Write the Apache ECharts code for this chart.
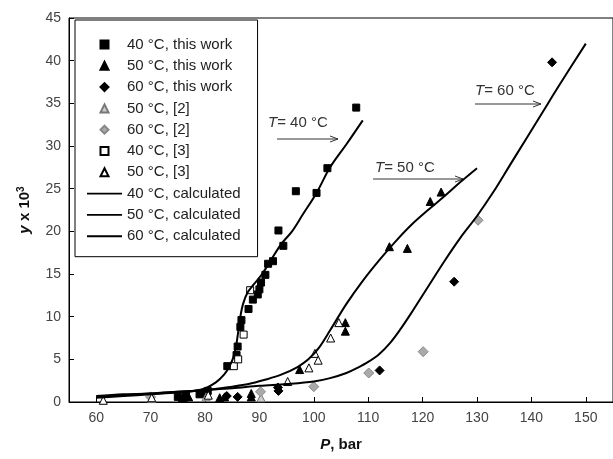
<!DOCTYPE html>
<html>
<head>
<meta charset="utf-8">
<script src="https://cdn.jsdelivr.net/npm/echarts@6/dist/echarts.min.js"></script>
<style>
html, body { margin: 0; padding: 0; background: #fff; }
#main { width: 613px; height: 459px; }
</style>
</head>
<body>
<div id="main"></div>
<script>
// measured points, P (bar) / y x 10^3
var sq40 = [[75.0,0.6],[75.8,0.4],[76.5,0.7],[79.0,0.9],[80.5,1.3],[84.1,4.2],[85.8,5.5],[86.0,6.5],[86.5,8.8],[86.7,9.6],
	[88.0,10.9],[88.8,12.0],[89.7,12.6],[90.0,13.2],[90.3,14.0],[91.1,14.9],[91.6,16.2],[92.5,16.5],[93.5,20.1],[94.4,18.3],
	[96.7,24.7],[100.5,24.5],[102.5,27.4],[107.8,34.5]];
var tri50 = [[76.0,0.5],[77.0,0.6],[82.7,0.5],[83.6,0.6],[88.5,0.6],[88.5,1.0],[97.4,3.8],[105.8,9.3],[105.8,8.3],
	[113.9,18.2],[117.2,18.0],[121.4,23.5],[123.4,24.6]];
var dia60 = [[80.0,0.9],[84.0,0.7],[86.0,0.6],[93.5,1.3],[93.4,1.7],[112.1,3.7],[125.8,14.1],[143.8,39.8]];
var tri50ref2 = [[70.2,0.4],[80.2,0.6],[90.3,0.5]];
var dia60ref2 = [[70.0,0.6],[90.2,1.2],[100.0,1.8],[110.1,3.4],[120.1,5.9],[130.2,21.3]];
var sq40ref3 = [[85.3,4.2],[86.1,5.0],[87.1,7.9],[88.3,13.1]];
var tri50ref3 = [[61.3,0.2],[70.2,0.5],[80.6,0.8],[95.2,2.4],[99.1,4.0],[100.2,5.7],[100.8,4.9],[103.1,7.5],[104.6,9.3]];

// model curves
var calc40 = [[60,0.5],[65,0.7],[70,0.9],[75,1.1],[78,1.3],[80,1.6],[82,2.3],[83.5,3.2],[84.5,4.2],[85.2,5.2],[85.7,6.5],
	[86.1,8.2],[86.5,10.0],[87.0,11.5],[87.8,12.8],[89.0,13.8],[90.5,15.0],[92.0,16.5],[94.0,18.5],[96.0,20.0],[98.0,22.0],
	[100.5,24.5],[103.0,27.5],[106.0,30.2],[109.0,33.0]];
var calc50 = [[60,0.6],[65,0.8],[70,1.0],[75,1.2],[80,1.4],[85,1.8],[88,2.1],[91,2.6],[94,3.2],[97,4.1],[99,5.0],[101,6.4],
	[103,8.4],[106,11.5],[109,14.2],[112,16.6],[115,18.8],[118,20.8],[121,22.5],[124,24.1],[127,25.8],[130,27.4]];
var calc60 = [[60,0.7],[65,0.9],[70,1.0],[75,1.2],[80,1.4],[85,1.6],[90,1.9],[95,2.1],[100,2.4],[103,2.8],[106,3.4],[108,4.0],
	[110,4.7],[112,5.6],[114,6.9],[116,8.6],[118,10.5],[121,13.5],[124,16.5],[127,19.3],[130,21.8],[133,24.6],[136,27.7],
	[139,30.8],[142,33.9],[145,37.0],[150,42.0]];

var names = ['40 °C, this work','50 °C, this work','60 °C, this work','50 °C, [2]','60 °C, [2]','40 °C, [3]','50 °C, [3]',
	'40 °C, calculated','50 °C, calculated','60 °C, calculated'];

var SQ = 'path://M0,0L10,0L10,10L0,10Z';
var TRI = 'path://M5,0L10,10L0,10Z';
var DIA = 'path://M5,0L10,5L5,10L0,5Z';
var LINE = 'path://M0,0L36,0L36,2L0,2Z';
var icons = [SQ, TRI, DIA, TRI, DIA, SQ, TRI, LINE, LINE, LINE];

var FONT = 'Liberation Sans, Arial, sans-serif';

function pts(name, data, symbol, size, fill, border) {
	return {
		name: name, type: 'scatter', data: data, symbol: symbol, symbolSize: size,
		itemStyle: { color: fill, borderColor: border, borderWidth: 1, opacity: 1 }
	};
}
function curve(name, data) {
	return {
		name: name, type: 'line', data: data, symbol: 'none', smooth: 0.35,
		lineStyle: { color: '#000', width: 2 }, itemStyle: { color: '#000' }
	};
}

var legendData = [];
for (var i = 0; i < names.length; i++) {
	legendData.push({ name: names[i], icon: icons[i] });
}

var chart = echarts.init(document.getElementById('main'));

chart.setOption({
	animation: false,
	backgroundColor: '#fff',
	grid: { left: 69, top: 18, right: -3, bottom: 57, show: true, borderColor: '#000', borderWidth: 1 },
	legend: {
		orient: 'vertical', left: 75, top: 20,
		padding: [17, 17, 13, 12],
		borderColor: '#000', borderWidth: 1, backgroundColor: '#fff',
		itemWidth: 35, itemHeight: 8, itemGap: 6.3,
		symbolKeepAspect: true,
		data: legendData,
		textStyle: { fontFamily: FONT, fontSize: 15, color: '#222', lineHeight: 15 }
	},
	xAxis: {
		type: 'value', min: 55, max: 155, splitNumber: 10,
		name: '{i|P}, bar', nameLocation: 'middle', nameGap: 35,
		nameTextStyle: { fontFamily: FONT, fontSize: 15, fontWeight: 'bold', color: '#111',
			rich: { i: { fontFamily: FONT, fontSize: 15, fontWeight: 'bold', fontStyle: 'italic', color: '#111' } } },
		axisLine: { lineStyle: { color: '#000', width: 1 } },
		axisTick: { inside: true, length: 5, lineStyle: { color: '#000' } },
		axisLabel: { fontFamily: FONT, fontSize: 14, color: '#444', margin: 9, showMinLabel: false, showMaxLabel: false },
		splitLine: { show: false }
	},
	yAxis: {
		type: 'value', min: 0, max: 45, interval: 5,
		name: '{i|y} x 10{s|3}', nameLocation: 'middle', nameGap: 35, nameRotate: 90,
		nameTextStyle: { fontFamily: FONT, fontSize: 15, fontWeight: 'bold', color: '#111',
			rich: {
				i: { fontFamily: FONT, fontSize: 15, fontWeight: 'bold', fontStyle: 'italic', color: '#111' },
				s: { fontFamily: FONT, fontSize: 10, fontWeight: 'bold', color: '#111', padding: [0, 0, 8, 0] }
			} },
		axisLine: { show: true, lineStyle: { color: '#000', width: 1 } },
		axisTick: { show: true, inside: true, length: 5, lineStyle: { color: '#000' } },
		axisLabel: { fontFamily: FONT, fontSize: 14, color: '#444', margin: 8 },
		splitLine: { show: false }
	},
	series: [
		pts(names[0], sq40, 'rect', 7, '#000', '#000'),
		pts(names[1], tri50, 'triangle', 8, '#000', '#000'),
		pts(names[2], dia60, 'diamond', 9, '#000', '#000'),
		pts(names[3], tri50ref2, 'triangle', 8, '#ccc', '#777'),
		pts(names[4], dia60ref2, 'diamond', 10, '#aaa', '#888'),
		pts(names[5], sq40ref3, 'rect', 7, '#fff', '#000'),
		pts(names[6], tri50ref3, 'triangle', 8, '#fff', '#000'),
		curve(names[7], calc40),
		curve(names[8], calc50),
		curve(names[9], calc60)
	]
});

// temperature labels with arrows
var notes = [
	{ t: '= 40 °C', tx: 268, ty: 123, x0: 277, x1: 338, y: 139 },
	{ t: '= 50 °C', tx: 375, ty: 168, x0: 373, x1: 463, y: 179 },
	{ t: '= 60 °C', tx: 475, ty: 91, x0: 475, x1: 541, y: 104 }
];
var els = [];
notes.forEach(function (n) {
	els.push({ type: 'text', x: n.tx, y: n.ty, style: {
		text: '{i|T}' + n.t, fill: '#333', font: '15px ' + FONT, verticalAlign: 'middle',
		rich: { i: { fontStyle: 'italic', fontFamily: FONT, fontSize: 15, fill: '#333' } } } });
	els.push({ type: 'line', shape: { x1: n.x0, y1: n.y, x2: n.x1, y2: n.y }, style: { stroke: '#333', lineWidth: 1 } });
	els.push({ type: 'polyline', shape: { points: [[n.x1 - 8, n.y - 3], [n.x1, n.y], [n.x1 - 8, n.y + 3]] },
		style: { stroke: '#333', lineWidth: 1, fill: null } });
});
chart.setOption({ graphic: els });
</script>
</body>
</html>
